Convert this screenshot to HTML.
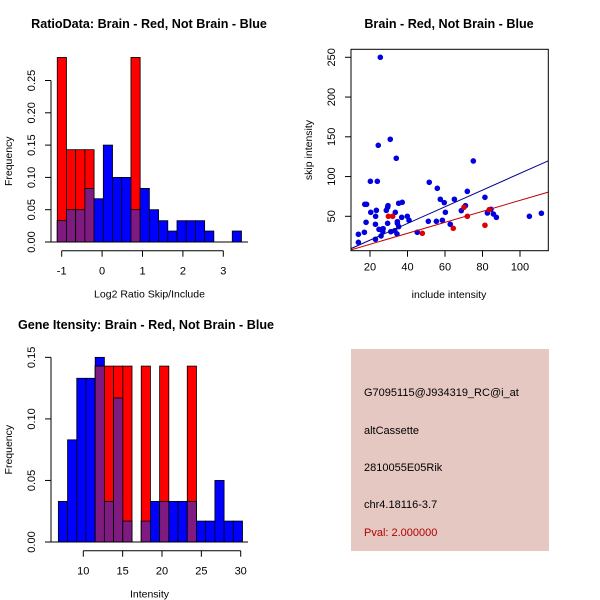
<!DOCTYPE html>
<html><head><meta charset="utf-8"><style>
body{margin:0;background:#fff}
svg{display:block;font-family:"Liberation Sans",sans-serif}
</style></head><body>
<svg id="c" width="600" height="600" viewBox="0 0 600 600">
<rect width="600" height="600" fill="#fff"/>
<g id="g1"></g>
<g id="g2"></g>
<g id="g3"></g>
<g>
<rect x="351" y="349" width="198" height="202" fill="#e6c8c2"/>
<g font-size="11" fill="#000">
<text x="364" y="396">G7095115@J934319_RC@i_at</text>
<text x="364" y="434">altCassette</text>
<text x="364" y="471">2810055E05Rik</text>
<text x="364" y="508">chr4.18116-3.7</text>
<text x="364" y="536" fill="#b00000">Pval: 2.000000</text>
</g></g>
</svg>
<script>
// Histogram 1 data
const h1Start = -1.11, h1Width = 0.228;
const h1Blue = [0.033,0.05,0.05,0.083,0.067,0.15,0.1,0.1,0.05,0.083,0.05,0.033,0.017,0.033,0.033,0.033,0.017,0,0,0.017];
const h1Red = [0.2857,0.1429,0.1429,0.1429,0,0,0,0,0.2857,0,0,0,0,0,0,0,0,0,0,0];
const h1XTicks = [-1,0,1,2,3];
const h1YTicks = [0,0.05,0.10,0.15,0.20,0.25];
const h1YLabels = ["0.00","0.05","0.10","0.15","0.20","0.25"];
// Histogram 3 data
const h3Start = 6.83, h3Width = 1.17;
const h3Blue = [0.033,0.083,0.133,0.133,0.15,0.033,0.117,0.017,0,0.017,0.033,0.033,0.033,0.033,0.033,0.017,0.017,0.05,0.017,0.017];
const h3Red = [0,0,0,0,0.1429,0.1429,0.1429,0.1429,0,0.1429,0,0.1429,0,0,0.1429,0,0,0,0,0];
const h3XTicks = [10,15,20,25,30];
const h3YTicks = [0,0.05,0.10,0.15];
const h3YLabels = ["0.00","0.05","0.10","0.15"];
// Scatter data
const blueX = [25.5,24.4,30.8,34,75.1,20.2,23.9,51.6,55.9,71.9,81.3,57.5,65,59.6,37.2,35.3,29.6,29.4,17.2,18.2,23.4,28.7,20.4,33.5,60.2,70.9,68.7,84.5,82.6,85.8,87.4,23,39.9,36.9,40.8,17.9,22.9,34.6,34.6,29.4,51.1,55.4,58.6,62.8,105,111.4,24.8,27,35.3,26.8,31.1,33.2,17,13.8,25.9,22.9,13.8,34.4,45.2];
const blueY = [250,139.3,146.9,123,119.6,94,94,92.8,85.2,81.4,73.9,71.4,71.4,67.2,67.6,66.4,63.4,61.3,65.1,65.1,57.5,57.5,55,55,55,63.4,57.1,58.8,54.2,52.9,48.7,50,50,48.7,45,42.5,40,43.3,41.2,41.2,43.7,43.7,45,40,50,53.8,33.6,34.5,37,31.1,30.7,31.9,29.9,27.4,25.3,21.1,17.3,27.8,29.9];
const redX = [29.8,32.1,47.9,64.4,70.1,71.9,81.3,83.6];
const redY = [50,50,28.6,34.9,61.3,50,38.7,58.4];
const blueLine = [1.05,-1];   // slope, intercept
const redLine = [0.69,1];
const sXTicks = [20,40,60,80,100];
const sYTicks = [50,100,150,200,250];

const NS="http://www.w3.org/2000/svg";
function mk(p,tag,attrs){const e=document.createElementNS(NS,tag);for(const k in attrs)e.setAttribute(k,attrs[k]);p.appendChild(e);return e;}
function txt(p,x,y,s,attrs){const t=mk(p,'text',Object.assign({x:x,y:y,'text-anchor':'middle','font-size':11},attrs||{}));t.textContent=s;return t;}

function hist(g,start,w,blue,red,xt,yt,yl,y0,ppy,title,xlab,ty,tx,X){
  const Y=v=>y0-v*ppy;
  for(let i=0;i<blue.length;i++){
    const x0=X(start+i*w), x1=X(start+(i+1)*w);
    const b=blue[i], r=red[i], m=Math.min(b,r);
    if(b>0){const e=mk(g,'rect',{x:x0,y:Y(b),width:x1-x0,height:Y(0)-Y(b),fill:'#0000ff',stroke:'#000','stroke-width':0.8});
      
      }
    if(r>0){const e=mk(g,'rect',{x:x0,y:Y(r),width:x1-x0,height:Y(0)-Y(r),fill:'#ff0000',stroke:'#000','stroke-width':0.8});
      
      }
    if(m>0){const e=mk(g,'rect',{x:x0,y:Y(m),width:x1-x0,height:Y(0)-Y(m),fill:'#7f1a80',stroke:'#000','stroke-width':0.8});
      
      }
  }
  mk(g,'line',{x1:51,x2:248,y1:y0,y2:y0,stroke:'#000'});
  mk(g,'line',{x1:51,x2:51,y1:Y(yt[0]),y2:Y(yt[yt.length-1]),stroke:'#000'});
  yt.forEach((v,i)=>{mk(g,'line',{x1:45,x2:51,y1:Y(v),y2:Y(v),stroke:'#000'});
    const t=txt(g,35,Y(v),yl[i],{transform:`rotate(-90 35 ${Y(v)})`});
    
    });
  const ay=y0+8.7;
  mk(g,'line',{x1:X(xt[0]),x2:X(xt[xt.length-1]),y1:ay,y2:ay,stroke:'#000'});
  xt.forEach(v=>{mk(g,'line',{x1:X(v),x2:X(v),y1:ay,y2:ay+6,stroke:'#000'});
    const t=txt(g,X(v),ay+24,String(v));
    
    });
  const xl=txt(g,149.5,ay+47,xlab,{'font-size':10.5});
  
  
  const yc=(Y(yt[0])+Y(yt[yt.length-1]))/2;
  const yla=txt(g,12,yc,'Frequency',{transform:`rotate(-90 12 ${yc})`,'font-size':10.5});
  
  
  const tt=txt(g,tx,ty,title,{'font-weight':'bold','font-size':12.6});
  
  
}
hist(document.getElementById('g1'),h1Start,h1Width,h1Blue,h1Red,h1XTicks,h1YTicks,h1YLabels,242,646,'RatioData: Brain - Red, Not Brain - Blue','Log2 Ratio Skip/Include',28,149,v=>61.7+(v+1)*40.4);
hist(document.getElementById('g3'),h3Start,h3Width,h3Blue,h3Red,h3XTicks,h3YTicks,h3YLabels,542,1231,'Gene Itensity: Brain - Red, Not Brain - Blue','Intensity',329,146,v=>83.3+(v-10)*7.87);

(function(){
  const g=document.getElementById('g2');
  const L=351,R=548.3,T=49.3,B=250.7;
  const X=v=>370+(v-20)*1.875, Y=v=>216.3-(v-50)*0.795;
  const x0=(L-370)/1.875+20, x1=(R-370)/1.875+20;
  const clip=mk(g,'clipPath',{id:'sc'});mk(clip,'rect',{x:L,y:T,width:R-L,height:B-T});
  const pg=mk(g,'g',{'clip-path':'url(#sc)'});
  blueX.forEach((v,i)=>{const c=mk(pg,'circle',{cx:X(v),cy:Y(blueY[i]),r:2.8,fill:'#0000e0'});
    
    });
  redX.forEach((v,i)=>{const c=mk(pg,'circle',{cx:X(v),cy:Y(redY[i]),r:2.8,fill:'#e00000'});
    
    });
  const bl=mk(pg,'line',{x1:X(x0),y1:Y(blueLine[0]*x0+blueLine[1]),x2:X(x1),y2:Y(blueLine[0]*x1+blueLine[1]),stroke:'#00008b'});
  
  
  const rl=mk(pg,'line',{x1:X(x0),y1:Y(redLine[0]*x0+redLine[1]),x2:X(x1),y2:Y(redLine[0]*x1+redLine[1]),stroke:'#c00000'});
  
  
  mk(g,'rect',{x:L,y:T,width:R-L,height:B-T,fill:'none',stroke:'#000'});
  sXTicks.forEach(v=>{mk(g,'line',{x1:X(v),x2:X(v),y1:B,y2:B+6,stroke:'#000'});
    const t=txt(g,X(v),B+20,String(v));
    
    });
  sYTicks.forEach(v=>{mk(g,'line',{x1:L-6,x2:L,y1:Y(v),y2:Y(v),stroke:'#000'});
    const t=txt(g,335,Y(v),String(v),{transform:`rotate(-90 335 ${Y(v)})`});
    
    });
  const xl=txt(g,449,298,'include intensity',{'font-size':10.5});
  
  
  const yl=txt(g,312,150,'skip intensity',{transform:'rotate(-90 312 150)','font-size':10.5});
  
  
  const tt=txt(g,449,28,'Brain - Red, Not Brain - Blue',{'font-weight':'bold','font-size':12.6});
  
  
})();
</script>
</body></html>
